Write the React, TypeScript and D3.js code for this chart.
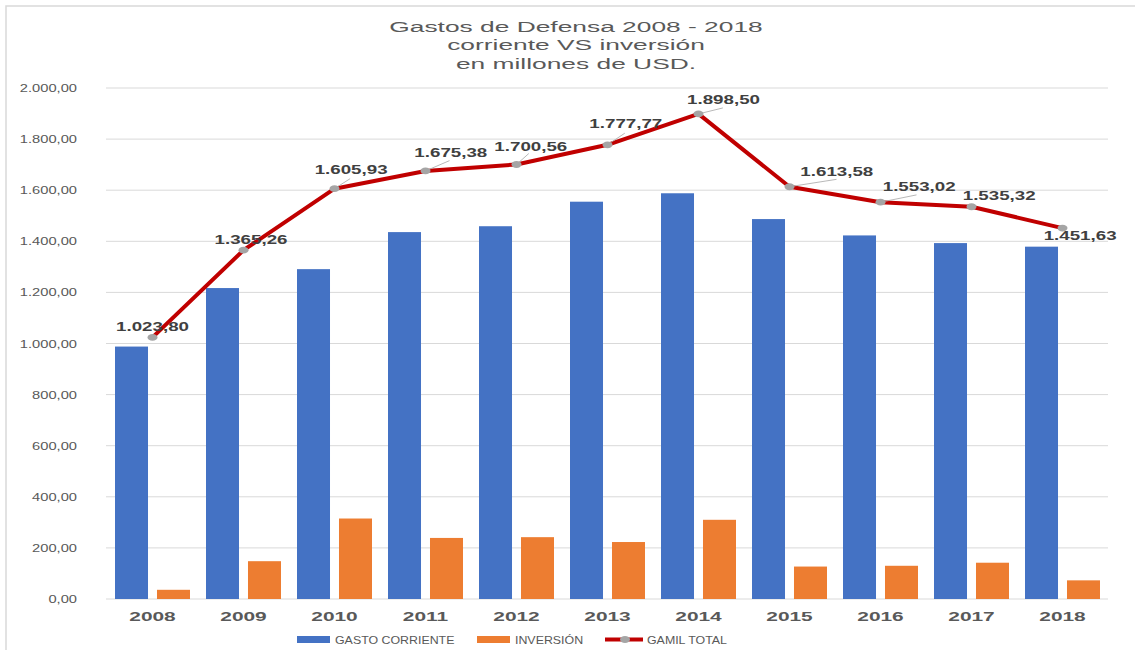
import React from 'react';
import * as d3 from 'd3';

// data (millones de USD)
const years = ['2008', '2009', '2010', '2011', '2012', '2013', '2014', '2015', '2016', '2017', '2018'];
const gastoCorriente = [988, 1217, 1291, 1436, 1459, 1555, 1588, 1487, 1423, 1393, 1379];
const inversion = [36, 148, 315, 239, 242, 223, 310, 127, 130, 142, 73];
const gamilTotal = [1023.8, 1365.26, 1605.93, 1675.38, 1700.56, 1777.77, 1898.5, 1613.58, 1553.02, 1535.32, 1451.63];
const yTicks = [0, 200, 400, 600, 800, 1000, 1200, 1400, 1600, 1800, 2000];
const titleLines = ['Gastos de Defensa 2008 - 2018', 'corriente VS inversión', 'en millones de USD.'];
const seriesNames = ['GASTO CORRIENTE', 'INVERSIÓN', 'GAMIL TOTAL'];

// manual label placement (offset from the point: label dx, dy, leader end dx, dy)
const labelLayout: (number[])[] = [
  [0, -6],
  [7.5, -6.4],
  [16.6, -14.3, 15.6, -10],
  [25.3, -14.3, 24, -10.3],
  [14.3, -14, 12.3, -11],
  [18.3, -16.3, 17.3, -11.6],
  [25, -10, 24.4, -6],
  [47.3, -11, 47, -7.4],
  [38.7, -11.3, 36, -7.3],
  [27.7, -6.7],
  [17.6, 11.6],
];

const W = 1135;
const H = 650;
const BLUE = '#4472C4';
const ORANGE = '#ED7D31';
const RED = '#C00000';
const MARKER = '#A5A5A5';
const FONT = '"Liberation Sans", Arial, sans-serif';

const fmt = d3.formatLocale({ decimal: ',', thousands: '.', grouping: [3], currency: ['', ''] }).format(',.2f');

// the original picture is stretched sideways, so text gets a horizontal scale
const SText = ({ x, y, sx, children, ...rest }: any) => (
  <text transform={`translate(${x},${y}) scale(${sx},1)`} fontFamily={FONT} {...rest}>
    {children}
  </text>
);

export default function App() {
  const x0 = d3.scaleBand().domain(years).range([107, 1108]).paddingInner(0).paddingOuter(0);
  const x1 = d3.scaleBand().domain(['gasto', 'inversion']).range([8, 83]).paddingInner(0.214);
  const y = d3.scaleLinear().domain([0, 2000]).range([599, 88]);
  const cx = (yr: string) => (x0(yr) as number) + x0.bandwidth() / 2;

  const line = d3.line<number>()
    .x((_, i) => cx(years[i]))
    .y(d => y(d));

  return (
    <svg width={W} height={H} style={{ position: 'absolute', left: 0, top: 0, background: '#fff' }}>
      <rect x={6} y={6} width={1140} height={700} fill="#fff" stroke="#d9d9d9" strokeWidth={1.5} />

      {titleLines.map((t, i) => (
        <SText key={t} x={576} y={32 + i * 18.3} sx={1.7} fontSize={15.5} fill="#595959" textAnchor="middle">{t}</SText>
      ))}

      {yTicks.map(t => (
        <g key={t}>
          <line x1={106} x2={1108} y1={y(t)} y2={y(t)} stroke="#d9d9d9" strokeWidth={1} />
          <SText x={77} y={y(t) + 4} sx={1.4} fontSize={10.5} fill="#595959" textAnchor="end">{fmt(t)}</SText>
        </g>
      ))}

      {years.map((yr, i) => (
        <g key={yr} transform={`translate(${x0(yr)},0)`}>
          <rect x={x1('gasto')} width={x1.bandwidth()} y={y(gastoCorriente[i])} height={y(0) - y(gastoCorriente[i])} fill={BLUE} />
          <rect x={x1('inversion')} width={x1.bandwidth()} y={y(inversion[i])} height={y(0) - y(inversion[i])} fill={ORANGE} />
          <SText x={x0.bandwidth() / 2} y={620.5} sx={1.74} fontSize={12} fontWeight="bold" fill="#595959" textAnchor="middle">{yr}</SText>
        </g>
      ))}

      <path d={line(gamilTotal) || ''} fill="none" stroke={RED} strokeWidth={4} strokeLinejoin="round" />

      {gamilTotal.map((v, i) => {
        const px = cx(years[i]);
        const py = y(v);
        const l = labelLayout[i];
        return (
          <g key={years[i]}>
            {l.length > 2 && (
              <line x1={px} y1={py} x2={px + l[2]} y2={py + l[3]} stroke="#a6a6a6" strokeWidth={0.8} />
            )}
            <ellipse cx={px} cy={py} rx={5} ry={3.4} fill={MARKER} />
          </g>
        );
      })}

      {gamilTotal.map((v, i) => {
        const l = labelLayout[i];
        return (
          <SText key={years[i]} x={cx(years[i]) + l[0]} y={y(v) + l[1]} sx={1.5} fontSize={12.5} fontWeight="bold" fill="#404040" textAnchor="middle">
            {fmt(v)}
          </SText>
        );
      })}

      {/* legend */}
      <g>
        <rect x={297} y={636} width={33} height={7} fill={BLUE} />
        <SText x={335} y={644} sx={1.18} fontSize={10.5} fill="#595959">{seriesNames[0]}</SText>
        <rect x={477} y={636} width={33} height={7} fill={ORANGE} />
        <SText x={515} y={644} sx={1.18} fontSize={10.5} fill="#595959">{seriesNames[1]}</SText>
        <line x1={605} x2={643} y1={639.5} y2={639.5} stroke={RED} strokeWidth={4} />
        <ellipse cx={625} cy={639.5} rx={5} ry={3.4} fill={MARKER} />
        <SText x={647} y={644} sx={1.18} fontSize={10.5} fill="#595959">{seriesNames[2]}</SText>
      </g>
    </svg>
  );
}
